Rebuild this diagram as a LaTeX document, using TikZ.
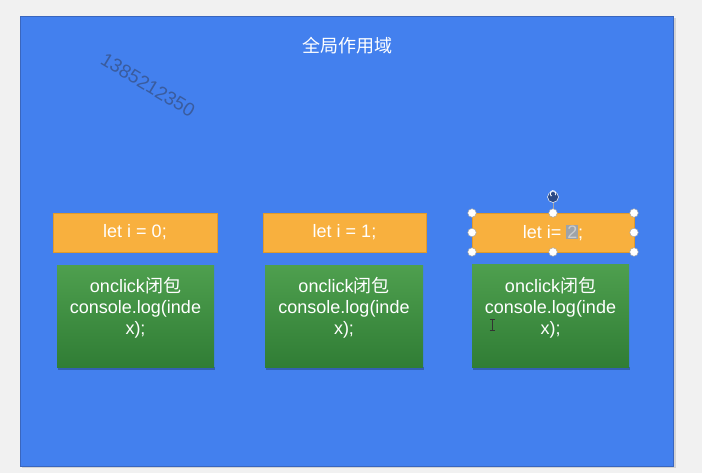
\documentclass[tikz,border=0pt]{standalone}
\usepackage{fontspec}
\usetikzlibrary{arrows.meta}
\setmainfont{Liberation Sans}
\newfontfamily\cjk{Noto Sans CJK SC}
\definecolor{pagebg}{HTML}{F1F1F1}
\definecolor{scopeblue}{HTML}{4380EE}
\definecolor{scopeedge}{HTML}{3A66BE}
\definecolor{letorange}{HTML}{F8B03E}
\definecolor{letedge}{HTML}{E09A2C}
\definecolor{greentop}{HTML}{4E9F4E}
\definecolor{greenbot}{HTML}{307D35}
\definecolor{wmark}{HTML}{3A5C9E}
\definecolor{hlgray}{HTML}{9EA3A8}
\definecolor{twogray}{HTML}{CDCDCD}
\definecolor{rotblue}{HTML}{2B4A86}
\tikzset{
  x=1pt,y=-1pt,
  letbox/.style={fill=letorange,draw=letedge,line width=0.6pt},
  closurebox/.style={top color=greentop,bottom color=greenbot,draw=none},
  boxtext/.style={text=white,font=\fontsize{18}{21}\selectfont,align=center,inner sep=0pt},
  handle/.style={circle,fill=white,draw=gray!70,line width=0.5pt,minimum size=8.5pt,inner sep=0pt},
  shadowbox/.style={fill=black,opacity=0.25,draw=none}
}
\begin{document}
\begin{tikzpicture}
\fill[pagebg] (0,0) rectangle (702,473);
\useasboundingbox (0,0) rectangle (702,473);
% global scope
\fill[black,opacity=0.12] (22,18) rectangle (676,468);
\draw[fill=scopeblue,draw=scopeedge,line width=0.8pt] (20,16) rectangle (673,466);
\node[boxtext] (title) at (347,46) {\cjk 全局作用域};
\node[text=wmark,font=\fontsize{19}{19}\selectfont,rotate=-31,inner sep=0pt] (wm) at (148,85) {1385212350};
% let boxes
\draw[letbox] (53,213) rectangle (217,252);
\node[boxtext] (let0) at (135,232.5) {let i = 0;};
\draw[letbox] (263,213) rectangle (426,252);
\node[boxtext] (let1) at (344.5,232.5) {let i = 1;};
\draw[letbox] (472,213) rectangle (634,252);
\node[boxtext] (let2) at (553,232.5) {let i= {\setlength\fboxsep{0.8pt}\colorbox{hlgray}{\color{twogray}2}};};
% closure boxes
\fill[shadowbox] (58,367) rectangle (215,369.5);
\shade[closurebox] (57,266) rectangle (214,367);
\node[boxtext,anchor=north] (c0) at (135.5,277) {onclick{\cjk 闭包}\\console.log(inde\\x);};
\fill[shadowbox] (266,367) rectangle (424,369.5);
\shade[closurebox] (265,266) rectangle (423,367);
\node[boxtext,anchor=north] (c1) at (344,277) {onclick{\cjk 闭包}\\console.log(inde\\x);};
\fill[shadowbox] (473,367) rectangle (630,369.5);
\shade[closurebox] (472,265) rectangle (629,367);
\node[boxtext,anchor=north] (c2) at (550.5,277) {onclick{\cjk 闭包}\\console.log(inde\\x);};
% selection handles
\coordinate (rt) at (553,197);
\draw[gray!70,line width=0.5pt] (553,202) -- (553,213);
\foreach \hx/\hy [count=\k] in {472/213,553/213,634/213,472/232.5,634/232.5,472/252,553/252,634/252}
  \node[handle] (h\k) at (\hx,\hy) {};
\node[circle,fill=rotblue,draw=white,line width=0.5pt,minimum size=11pt,inner sep=0pt] (rot) at (rt) {};
\draw[white,line width=0.8pt,-{Stealth[length=1.5pt]}] ([shift={(40:2.8pt)}]rot.center) arc[start angle=-40,end angle=250,radius=2.8pt];
% I-beam cursor
\draw[black!80,line width=0.8pt] (492,319) -- (492,330) (489.5,319) -- (494.5,319) (489.5,330) -- (494.5,330);
\end{tikzpicture}
\end{document}
